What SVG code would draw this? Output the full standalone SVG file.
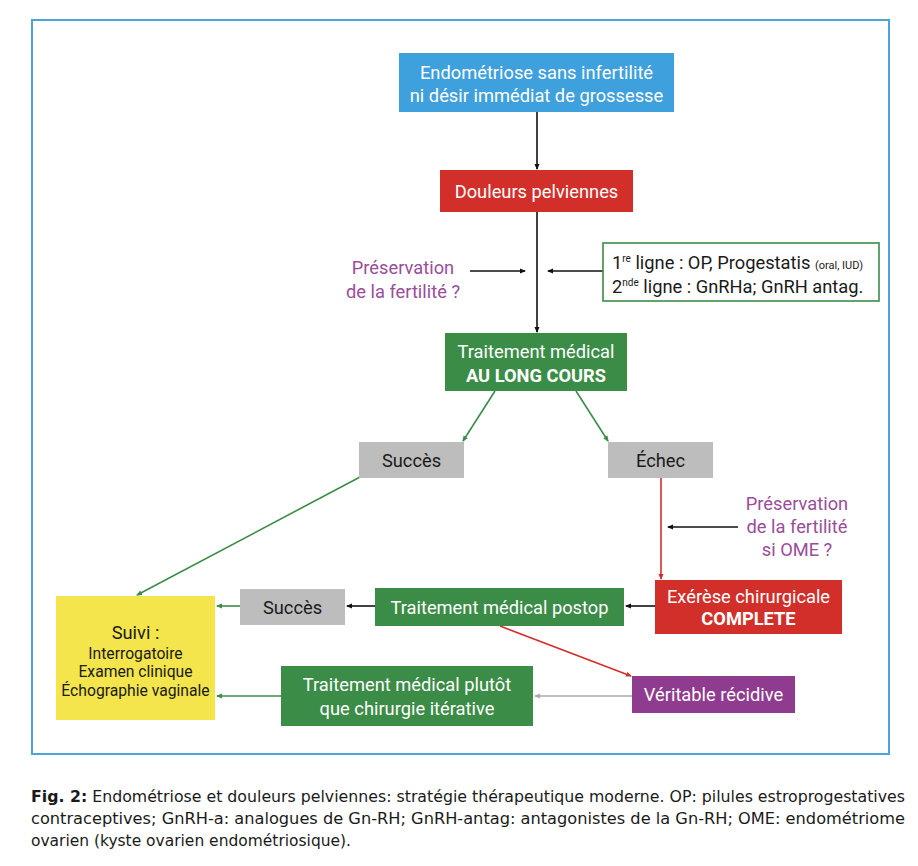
<svg xmlns="http://www.w3.org/2000/svg" width="918" height="866" viewBox="0 0 918 866">
<defs>
<style>
.t{font-family:Roboto,"Open Sans","Liberation Sans",sans-serif;font-size:18.3px;text-anchor:middle}
.w{fill:#ffffff}
.k{fill:#1a1a1a}
.p{fill:#9a4d9a}
.b{font-weight:bold}
.s{font-size:15.7px}
.c{font-family:"DejaVu Sans Condensed","Liberation Sans",sans-serif;font-size:15px;fill:#1a1a1a}
.ln{fill:none;stroke-width:1.6}
</style>
<marker id="ak" markerWidth="6" markerHeight="6" refX="5" refY="3" orient="auto" markerUnits="userSpaceOnUse"><path d="M0,0.5 L6,3 L0,5.5 z" fill="#111"/></marker>
<marker id="ag" markerWidth="6" markerHeight="6" refX="5" refY="3" orient="auto" markerUnits="userSpaceOnUse"><path d="M0,0.5 L6,3 L0,5.5 z" fill="#3b8c46"/></marker>
<marker id="ar" markerWidth="6" markerHeight="6" refX="5" refY="3" orient="auto" markerUnits="userSpaceOnUse"><path d="M0,0.5 L6,3 L0,5.5 z" fill="#d22f2b"/></marker>
<marker id="ay" markerWidth="6" markerHeight="6" refX="5" refY="3" orient="auto" markerUnits="userSpaceOnUse"><path d="M0,0.5 L6,3 L0,5.5 z" fill="#aaaaaa"/></marker>
</defs>
<rect x="0" y="0" width="918" height="866" fill="#ffffff"/>
<rect x="32" y="20" width="857" height="734" fill="none" stroke="#4ea3dc" stroke-width="2"/>

<g id="connectors">
<line class="ln" x1="537" y1="112" x2="537" y2="169" stroke="#111" marker-end="url(#ak)"/>
<line class="ln" x1="537" y1="212" x2="537" y2="332" stroke="#111" marker-end="url(#ak)"/>
<line class="ln" x1="470" y1="271" x2="525" y2="271" stroke="#111" marker-end="url(#ak)"/>
<line class="ln" x1="603" y1="271" x2="548" y2="271" stroke="#111" marker-end="url(#ak)"/>
<line class="ln" x1="495" y1="391" x2="463" y2="441" stroke="#3b8c46" marker-end="url(#ag)"/>
<line class="ln" x1="576" y1="391" x2="608" y2="441" stroke="#3b8c46" marker-end="url(#ag)"/>
<line class="ln" x1="360" y1="477" x2="137" y2="595" stroke="#3b8c46" marker-end="url(#ag)"/>
<line class="ln" x1="661" y1="478" x2="661" y2="579" stroke="#d22f2b" marker-end="url(#ar)"/>
<line class="ln" x1="738" y1="527" x2="668" y2="527" stroke="#111" marker-end="url(#ak)"/>
<line class="ln" x1="655" y1="606" x2="626" y2="606" stroke="#111" marker-end="url(#ak)"/>
<line class="ln" x1="375" y1="606" x2="347" y2="606" stroke="#111" marker-end="url(#ak)"/>
<line class="ln" x1="240" y1="606" x2="217" y2="606" stroke="#3b8c46" marker-end="url(#ag)"/>
<line class="ln" x1="500" y1="626" x2="631" y2="676" stroke="#d22f2b" marker-end="url(#ar)"/>
<line class="ln" x1="632" y1="696" x2="535" y2="696" stroke="#aaaaaa" marker-end="url(#ay)"/>
<line class="ln" x1="281" y1="696" x2="217" y2="696" stroke="#3b8c46" marker-end="url(#ag)"/>
</g>

<g id="n-start">
<rect x="399" y="53" width="275" height="59" fill="#3fa0de"/>
<text class="t w" x="536.5" y="79">Endométriose sans infertilité</text>
<text class="t w" x="536.5" y="102">ni désir immédiat de grossesse</text>
</g>
<g id="n-douleurs">
<rect x="440" y="170" width="193" height="42" fill="#d22f2b"/>
<text class="t w" x="536.5" y="198">Douleurs pelviennes</text>
</g>
<g id="n-pres1">
<text class="t p" x="403" y="274">Préservation</text>
<text class="t p" x="403" y="298">de la fertilité ?</text>
</g>
<g id="n-lignes">
<rect x="603" y="243" width="276" height="58" fill="#ffffff" stroke="#3b8c46" stroke-width="1.6"/>
<text class="t k" x="612" y="269" style="text-anchor:start">1<tspan font-size="10" dy="-7">re</tspan><tspan dy="7"> ligne : OP, Progestatis </tspan><tspan font-size="11">(oral, IUD)</tspan></text>
<text class="t k" x="612" y="293" style="text-anchor:start">2<tspan font-size="10" dy="-7">nde</tspan><tspan dy="7"> ligne : GnRHa; GnRH antag.</tspan></text>
</g>
<g id="n-long">
<rect x="445" y="333" width="182" height="58" fill="#3b8c46"/>
<text class="t w" x="536" y="358">Traitement médical</text>
<text class="t w b" x="536" y="382">AU LONG COURS</text>
</g>
<g id="n-succes1">
<rect x="359" y="442" width="105" height="36" fill="#bdbdbd"/>
<text class="t k" x="411.5" y="467">Succès</text>
</g>
<g id="n-echec">
<rect x="608" y="442" width="105" height="36" fill="#bdbdbd"/>
<text class="t k" x="660.5" y="467">Échec</text>
</g>
<g id="n-pres2">
<text class="t p" x="797" y="510">Préservation</text>
<text class="t p" x="797" y="533">de la fertilité</text>
<text class="t p" x="797" y="556">si OME ?</text>
</g>
<g id="n-exerese">
<rect x="655" y="580" width="187" height="54" fill="#d22f2b"/>
<text class="t w" x="748.5" y="603">Exérèse chirurgicale</text>
<text class="t w b" x="748.5" y="625">COMPLETE</text>
</g>
<g id="n-postop">
<rect x="375" y="588" width="249" height="38" fill="#3b8c46"/>
<text class="t w" x="499.5" y="614">Traitement médical postop</text>
</g>
<g id="n-succes2">
<rect x="240" y="589" width="105" height="36" fill="#bdbdbd"/>
<text class="t k" x="292.5" y="614">Succès</text>
</g>
<g id="n-suivi">
<rect x="56" y="596" width="159" height="124" fill="#f3e54b"/>
<text class="t k" x="135.5" y="639">Suivi :</text>
<text class="t k s" x="135.5" y="659">Interrogatoire</text>
<text class="t k s" x="135.5" y="677">Examen clinique</text>
<text class="t k s" x="135.5" y="696">Échographie vaginale</text>
</g>
<g id="n-recidive">
<rect x="632" y="676" width="163" height="37" fill="#8f3b8f"/>
<text class="t w" x="713.5" y="701">Véritable récidive</text>
</g>
<g id="n-plutot">
<rect x="281" y="666" width="252" height="60" fill="#3b8c46"/>
<text class="t w" x="407" y="691">Traitement médical plutôt</text>
<text class="t w" x="407" y="715">que chirurgie itérative</text>
</g>

<g id="caption">
<text class="c" x="31" y="802" textLength="874" lengthAdjust="spacingAndGlyphs"><tspan font-weight="bold">Fig. 2:</tspan> Endométriose et douleurs pelviennes: stratégie thérapeutique moderne. OP: pilules estroprogestatives</text>
<text class="c" x="31" y="824" textLength="874" lengthAdjust="spacingAndGlyphs">contraceptives; GnRH-a: analogues de Gn-RH; GnRH-antag: antagonistes de la Gn-RH; OME: endométriome</text>
<text class="c" x="31" y="846" textLength="320" lengthAdjust="spacingAndGlyphs">ovarien (kyste ovarien endométriosique).</text>
</g>
</svg>
